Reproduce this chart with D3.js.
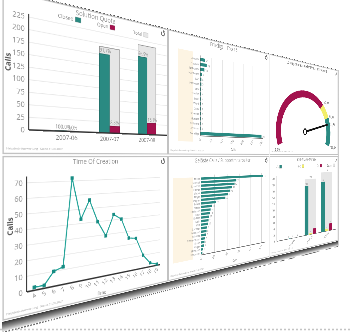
<!DOCTYPE html>
<html>
<head>
<meta charset="utf-8">
<script src="https://cdn.jsdelivr.net/npm/d3@7"></script>
<style>
  html, body { margin: 0; padding: 0; background: #fff; overflow: hidden; width: 350px; height: 332px; }
  #floor { position: absolute; left: 0; top: 0; }
  #board { position: absolute; left: 0; top: 0; width: 1214px; height: 640px; transform-origin: 0 0; }
  text { font-family: "Open Sans", "DejaVu Sans", sans-serif; }
</style>
</head>
<body>
<svg id="floor" width="350" height="332"></svg>
<div id="board"></div>
<script>
// ---- data ---------------------------------------------------------------
// Solution Quota (calls per month)
const months = ["2007-06", "2007-07", "2007-08"];
const closedCalls = [1, 177, 186];
const openCalls = [0, 16, 28];
const quotaTicks = d3.range(0, 226, 25);

// Time Of Creation (calls per hour of day)
const hours = ["4", "5", "6", "7", "8", "9", "10", "11", "12", "13", "14", "15", "16", "17", "18", "19"];
const callsPerHour = [2, 2, 10, 12, 72, 43, 56, 40, 29, 44, 40, 25, 24, 10, 3, 1];
const hourTicks = d3.range(0, 71, 10);

// Erledigt | Top 15
const topCategories = ["Drucker", "Outlook", "Netzwerk", "Hardware", "SAP", "Passwort", "VPN", "Telefon",
  "Excel", "Word", "Citrix", "Scanner", "Monitor", "Software", "Lizenzen", "Sonstige"];
const topDone = [21, 28, 18, 8, 5, 5, 4, 4, 4, 3, 3, 3, 3, 2, 2, 297];
const topTicks = d3.range(0, 301, 50);

// Gelöste Calls / Supportmitarbeiter
const agents = ["Müller", "Schmidt", "Schneider", "Fischer", "Weber", "Meyer", "Wagner", "Becker", "Schulz",
  "Hoffmann", "Koch", "Richter", "Klein", "Wolf", "Schröder", "Neumann", "Schwarz", "Zimmermann",
  "Braun", "Krüger", "Hofmann", "Hartmann"];
const solvedCalls = [103, 55, 52, 48, 45, 41, 37, 22, 16, 14, 13, 12, 11, 10, 9, 8, 7, 6, 5, 4, 3, 2];
const agentTicks = d3.range(0, 101, 20);

// Lösungsquote gauge (percent)
const quotaBands = [0, 70, 80, 100];
const quotaNow = 84.5;

// Call stage matrix (stages per call, per month)
const stageLabels = ["1 - 3", "4 - 6", "7+"];
const stageLow = [1, 170, 180];
const stageMid = [0, 4, 8];
const stageHigh = [0, 19, 26];
const stageTicks = d3.range(0, 201, 20);

// ---- colours --------------------------------------------------------------
const TEAL = "#2a8a82", MAGENTA = "#a3124e", YELLOW = "#f2ee6a", GRAY = "#e6e6e6", LINE = "#22a398";
const pct = v => d3.format(".1f")(v).replace(".", ",") + "%";

// floor line under the board
d3.select("#floor").append("line").attr("x1", 0).attr("x2", 350).attr("y1", 329.5).attr("y2", 329.5)
  .attr("stroke", "#c4c4c4").attr("stroke-width", 1.5).attr("stroke-dasharray", "2,2");

// ---- board: 1200x600 flat dashboard, projected onto a tilted plane ----------
const W = 1200, H = 600;
const corners = [[2, -12], [338, 70], [338, 241], [2, 322]];

function quadMatrix(w, h, q) {
  const [x0, y0] = q[0], [x1, y1] = q[1], [x2, y2] = q[2], [x3, y3] = q[3];
  const dx1 = x1 - x2, dx2 = x3 - x2, dx3 = x0 - x1 + x2 - x3;
  const dy1 = y1 - y2, dy2 = y3 - y2, dy3 = y0 - y1 + y2 - y3;
  const den = dx1 * dy2 - dx2 * dy1;
  const g = (dx3 * dy2 - dx2 * dy3) / den;
  const k = (dx1 * dy3 - dx3 * dy1) / den;
  const a = x1 - x0 + g * x1, b = x3 - x0 + k * x3, c = x0;
  const d = y1 - y0 + g * y1, e = y3 - y0 + k * y3, f = y0;
  return [a / w, d / w, 0, g / w, b / h, e / h, 0, k / h, 0, 0, 1, 0, c, f, 0, 1];
}

const board = d3.select("#board")
  .style("transform", "matrix3d(" + quadMatrix(W, H, corners).join(",") + ")");
const svg = board.append("svg").attr("width", 1214).attr("height", 640);

// board edge: thickness shading under the bottom, dashed outline, right edge
const defs = svg.append("defs");
const edgeGrad = defs.append("linearGradient").attr("id", "edge").attr("x1", 0).attr("y1", 0).attr("x2", 0).attr("y2", 1);
edgeGrad.append("stop").attr("offset", 0).attr("stop-color", "#353535");
edgeGrad.append("stop").attr("offset", 0.55).attr("stop-color", "#8a8a8a");
edgeGrad.append("stop").attr("offset", 1).attr("stop-color", "#e4e4e4");
const sideGrad = defs.append("linearGradient").attr("id", "side").attr("x1", 0).attr("y1", 0).attr("x2", 1).attr("y2", 0);
sideGrad.append("stop").attr("offset", 0).attr("stop-color", "#9a9a9a");
sideGrad.append("stop").attr("offset", 1).attr("stop-color", "#f2f2f2");

svg.append("rect").attr("x", 0).attr("y", 600).attr("width", 1206).attr("height", 17).attr("fill", "url(#edge)");
svg.append("rect").attr("x", 1199).attr("y", 0).attr("width", 8).attr("height", 614).attr("fill", "url(#side)");
svg.append("line").attr("x1", 0).attr("x2", 1207).attr("y1", 619).attr("y2", 619)
  .attr("stroke", "#666").attr("stroke-width", 2.5).attr("stroke-dasharray", "3,3");
svg.append("line").attr("x1", 0).attr("x2", 1200).attr("y1", 1).attr("y2", 1)
  .attr("stroke", "#555").attr("stroke-width", 2.5).attr("stroke-dasharray", "5,4");

function panel(px, py, title) {
  const g = svg.append("g").attr("transform", `translate(${px},${py})`);
  g.append("rect").attr("x", 2).attr("y", 3).attr("width", 396).attr("height", 294)
    .attr("fill", "#fff").attr("stroke", "#c2c2c2").attr("stroke-width", 2.5);
  g.append("text").attr("x", 200).attr("y", 18).attr("text-anchor", "middle")
    .attr("font-size", 14).attr("fill", "#8c8c8c").text(title);
  const ic = g.append("g").attr("transform", "translate(384,15)");
  ic.append("path").attr("d", d3.arc()({ innerRadius: 3.5, outerRadius: 6, startAngle: 0.7, endAngle: 5.6 }))
    .attr("fill", "#6f6f6f");
  ic.append("path").attr("d", "M0,-9 L6,-6 L1,-2 Z").attr("fill", "#6f6f6f");
  g.append("text").attr("x", 8).attr("y", 290).attr("font-size", 6).attr("fill", "#aaa")
    .text("Helpdesk-Auswertung · Stand 31.08.2007");
  return g;
}

function styleAxis(sel, size, color) {
  sel.select(".domain").remove();
  sel.selectAll("text").attr("font-size", size).attr("fill", color);
}

// ---- 1: Solution Quota ---------------------------------------------------
{
  const g = panel(0, 0, "Solution Quota");
  const y = d3.scaleLinear().domain([0, 225]).range([253, 42]);
  const x = d3.scaleBand().domain(months).range([79, 388]).paddingInner(0.49).paddingOuter(0.25);
  const sub = d3.scaleBand().domain(["closed", "open"]).range([0, x.bandwidth()]).paddingInner(0.04);
  const rows = months.map((m, i) => ({ m, closed: closedCalls[i], open: openCalls[i], total: closedCalls[i] + openCalls[i] }));

  g.append("g").selectAll("line").data(quotaTicks.slice(1)).join("line")
    .attr("x1", 51).attr("x2", 396).attr("y1", d => y(d)).attr("y2", d => y(d))
    .attr("stroke", "#e8e8e8").attr("stroke-width", 1.5);
  const ya = g.append("g").attr("transform", "translate(47,0)")
    .call(d3.axisLeft(y).tickValues(quotaTicks).tickSize(0).tickPadding(4));
  styleAxis(ya, 14, "#8a8a8a");

  // totals as light boxes behind
  g.append("g").selectAll("rect").data(rows).join("rect")
    .attr("x", d => x(d.m)).attr("width", x.bandwidth())
    .attr("y", d => y(d.total)).attr("height", d => y(0) - y(d.total))
    .attr("fill", GRAY).attr("stroke", "#8e8e8e").attr("stroke-width", 1.5);
  const bars = g.append("g").selectAll("g").data(rows).join("g").attr("transform", d => `translate(${x(d.m)},0)`);
  bars.append("rect").attr("x", sub("closed")).attr("width", sub.bandwidth())
    .attr("y", d => y(d.closed)).attr("height", d => y(0) - y(d.closed))
    .attr("fill", TEAL).attr("stroke", "#1f6b65").attr("stroke-width", 1.2);
  bars.append("rect").attr("x", sub("open")).attr("width", sub.bandwidth())
    .attr("y", d => y(d.open)).attr("height", d => y(0) - y(d.open))
    .attr("fill", MAGENTA).attr("stroke", "#7d0c3b").attr("stroke-width", 1.2);
  bars.append("text").attr("x", sub("closed") + 1).attr("y", d => y(d.closed) - 4)
    .attr("font-size", 10).attr("fill", "#888").text(d => pct(100 * d.closed / d.total));
  bars.append("text").attr("x", sub("open") + 1).attr("y", d => y(d.open) - 4)
    .attr("font-size", 10).attr("fill", "#888").text(d => pct(100 * d.open / d.total));

  // axes lines
  g.append("line").attr("x1", 51).attr("x2", 51).attr("y1", 36).attr("y2", y(0)).attr("stroke", "#333").attr("stroke-width", 2);
  g.append("line").attr("x1", 51).attr("x2", 396).attr("y1", y(0)).attr("y2", y(0)).attr("stroke", "#333").attr("stroke-width", 3);

  g.append("g").selectAll("text").data(months).join("text")
    .attr("x", d => x(d) + x.bandwidth() / 2).attr("y", 270).attr("text-anchor", "middle")
    .attr("font-size", 13).attr("fill", "#7a7a7a").text(d => d);
  g.append("text").attr("transform", "translate(16,131) rotate(-90)").attr("text-anchor", "middle")
    .attr("font-size", 14).attr("font-weight", "bold").attr("fill", "#555").text("Calls");

  const legend = [["Closed", TEAL, 150], ["Open", MAGENTA, 234], ["Total", GRAY, 326]];
  const lg = g.append("g").selectAll("g").data(legend).join("g").attr("transform", d => `translate(${d[2]},31)`);
  lg.append("text").attr("x", -4).attr("y", 0).attr("text-anchor", "end").attr("font-size", 11).attr("fill", "#777").text(d => d[0]);
  lg.append("rect").attr("x", 0).attr("y", -9).attr("width", 13).attr("height", 10)
    .attr("fill", d => d[1]).attr("stroke", "#999").attr("stroke-width", 0.6);
}

// ---- 2: Time Of Creation -------------------------------------------------
{
  const g = panel(0, 300, "Time Of Creation");
  const y = d3.scaleLinear().domain([0, 73]).range([255, 43]);
  const x = d3.scalePoint().domain(hours).range([62, 365]);
  const pts = hours.map((h, i) => ({ h, v: callsPerHour[i] }));

  g.append("g").selectAll("line").data(hourTicks.slice(1)).join("line")
    .attr("x1", 47).attr("x2", 374).attr("y1", d => y(d)).attr("y2", d => y(d))
    .attr("stroke", "#e8e8e8").attr("stroke-width", 1.5);
  const ya = g.append("g").attr("transform", "translate(43,0)")
    .call(d3.axisLeft(y).tickValues(hourTicks).tickSize(0).tickPadding(4));
  styleAxis(ya, 14, "#8a8a8a");
  g.append("line").attr("x1", 47).attr("x2", 47).attr("y1", 40).attr("y2", y(0)).attr("stroke", "#333").attr("stroke-width", 2);
  g.append("line").attr("x1", 47).attr("x2", 375).attr("y1", y(0)).attr("y2", y(0)).attr("stroke", "#333").attr("stroke-width", 3);

  g.append("path").datum(pts).attr("fill", "none").attr("stroke", LINE).attr("stroke-width", 2.5)
    .attr("d", d3.line().x(d => x(d.h)).y(d => y(d.v)));
  g.append("g").selectAll("rect").data(pts).join("rect")
    .attr("x", d => x(d.h) - 3.5).attr("y", d => y(d.v) - 3.5).attr("width", 7).attr("height", 7)
    .attr("fill", "#178c83");

  g.append("g").selectAll("text").data(hours).join("text")
    .attr("transform", d => `translate(${x(d) + 5},266) rotate(-40)`).attr("text-anchor", "end")
    .attr("font-size", 12).attr("fill", "#8a8a8a").text(d => d);
  g.append("text").attr("x", 213).attr("y", 293).attr("text-anchor", "middle")
    .attr("font-size", 10).attr("fill", "#777").text("Time");
  g.append("text").attr("transform", "translate(20,130) rotate(-90)").attr("text-anchor", "middle")
    .attr("font-size", 14).attr("font-weight", "bold").attr("fill", "#555").text("Calls");
}

// horizontal bar chart used by the two middle panels
function hbars(g, names, values, ticks, xr, dom, yr, cream, fs) {
  const x = d3.scaleLinear().domain(dom).range(xr);
  const y = d3.scaleBand().domain(names).range(yr).paddingInner(0.35);
  g.append("rect").attr("x", cream[0]).attr("y", cream[1]).attr("width", cream[2]).attr("height", cream[3]).attr("fill", "#fdf4e3");
  g.append("g").selectAll("line").data(ticks.slice(1)).join("line")
    .attr("x1", d => x(d)).attr("x2", d => x(d)).attr("y1", yr[0] - 6).attr("y2", yr[1] + 2)
    .attr("stroke", "#c9c9c9").attr("stroke-width", 1.5);
  const rows = names.map((n, i) => ({ n, v: values[i] }));
  g.append("g").selectAll("rect").data(rows).join("rect")
    .attr("x", x(0)).attr("y", d => y(d.n)).attr("height", y.bandwidth())
    .attr("width", d => x(d.v) - x(0)).attr("fill", TEAL);
  g.append("g").selectAll("text").data(rows).join("text")
    .attr("x", d => x(d.v) + 3).attr("y", d => y(d.n) + y.bandwidth() / 2 + 3)
    .attr("font-size", fs).attr("fill", "#888").text(d => d.v);
  g.append("g").selectAll("text").data(names).join("text")
    .attr("x", x(0) - 4).attr("y", d => y(d) + y.bandwidth() / 2 + 3).attr("text-anchor", "end")
    .attr("font-size", fs).attr("fill", "#8a8a8a").text(d => d);
  g.append("line").attr("x1", x(0)).attr("x2", x(0)).attr("y1", yr[0] - 6).attr("y2", yr[1] + 2).attr("stroke", "#444").attr("stroke-width", 1.5);
  g.append("line").attr("x1", x(0)).attr("x2", xr[1] + 6).attr("y1", yr[1] + 2).attr("y2", yr[1] + 2).attr("stroke", "#444").attr("stroke-width", 1.5);
  g.append("g").selectAll("text").data(ticks).join("text")
    .attr("transform", d => `translate(${x(d) + 3},${yr[1] + 12}) rotate(-45)`).attr("text-anchor", "end")
    .attr("font-size", 9).attr("fill", "#888").text(d => d);
  g.append("text").attr("x", (x(0) + xr[1]) / 2).attr("y", 288).attr("text-anchor", "middle")
    .attr("font-size", 9).attr("fill", "#777").text("Calls");
}

// ---- 3: Erledigt | Top 15 --------------------------------------------------
{
  const g = panel(400, 0, "Erledigt | Top 15");
  hbars(g, topCategories, topDone, topTicks, [109, 364], [0, 300], [54, 249], [32, 42, 51, 224], 8);
}

// ---- 4: Gelöste Calls / Supportmitarbeiter --------------------------------
{
  const g = panel(400, 300, "Gelöste Calls / Supportmitarbeiter");
  hbars(g, agents, solvedCalls, agentTicks, [112, 374.5], [0, 105], [56, 250], [17, 55, 67, 204], 7);
}

// ---- 5: Lösungsquote gauge -------------------------------------------------
{
  const g = panel(800, 0, "");
  g.append("text").attr("x", 205).attr("y", 18).attr("text-anchor", "middle")
    .attr("font-size", 12).attr("fill", "#444").text("Lösungsquote aktueller Monat (in Prozent)");
  const angle = d3.scaleLinear().domain([0, 100]).range([-110, 110].map(a => a * Math.PI / 180));
  const cx = 190, cy = 224, sx = 1.2, rIn = 110, rOut = 132;
  const bandColors = [MAGENTA, YELLOW, TEAL];
  const gauge = g.append("g").attr("transform", `translate(${cx},${cy}) scale(${sx},1)`);
  const arc = d3.arc().innerRadius(rIn).outerRadius(rOut);
  gauge.selectAll("path").data(d3.pairs(quotaBands)).join("path")
    .attr("d", d => arc({ startAngle: angle(d[0]), endAngle: angle(d[1]) }))
    .attr("fill", (d, i) => bandColors[i]);
  const pos = (v, r) => [cx + Math.sin(angle(v)) * r * sx, cy - Math.cos(angle(v)) * r];
  const tip = pos(quotaNow, 120);
  g.append("line").attr("x1", cx).attr("y1", cy).attr("x2", tip[0]).attr("y2", tip[1])
    .attr("stroke", "#111").attr("stroke-width", 6);
  g.append("circle").attr("cx", cx).attr("cy", cy).attr("r", 9).attr("fill", "#fff").attr("stroke", "#111").attr("stroke-width", 4);

  const lab = (v, dx, dy, anchor) => {
    const p = pos(v, rOut);
    g.append("text").attr("x", p[0] + dx).attr("y", p[1] + dy).attr("text-anchor", anchor)
      .attr("font-size", 12).attr("fill", "#555").text(pct(v));
  };
  lab(quotaBands[0], 0, 18, "middle");
  lab(quotaBands[1], 6, -4, "start");
  lab(quotaBands[2], 5, 2, "start");
  lab(quotaNow, 5, 6, "start");
  lab(quotaBands[3], 8, 8, "start");
}

// ---- 6: Call-Stage-Matrix --------------------------------------------------
{
  const g = panel(800, 300, "Call-Stage-Matrix");
  const y = d3.scaleLinear().domain([0, 200]).range([257, 70]);
  const x = d3.scaleBand().domain(months).range([50, 395]).paddingInner(0.3).paddingOuter(0.35);
  const sub = d3.scaleBand().domain([0, 1, 2]).range([0, x.bandwidth()]).paddingInner(0.08);
  const colors = [TEAL, YELLOW, MAGENTA];
  const rows = months.map((m, i) => ({ m, vals: [stageLow[i], stageMid[i], stageHigh[i]], total: stageLow[i] + stageMid[i] + stageHigh[i] }));

  const ya = g.append("g").attr("transform", "translate(32,0)")
    .call(d3.axisLeft(y).tickValues(stageTicks).tickSize(0).tickPadding(3));
  styleAxis(ya, 9, "#777");
  g.append("line").attr("x1", 36).attr("x2", 36).attr("y1", 62).attr("y2", y(0)).attr("stroke", "#444").attr("stroke-width", 1.5);
  g.append("line").attr("x1", 36).attr("x2", 396).attr("y1", y(0)).attr("y2", y(0)).attr("stroke", "#444").attr("stroke-width", 1.5);

  g.append("g").selectAll("rect").data(rows).join("rect")
    .attr("x", d => x(d.m)).attr("width", x.bandwidth())
    .attr("y", d => y(d.total)).attr("height", d => y(0) - y(d.total)).attr("fill", GRAY);
  g.append("g").selectAll("text").data(rows).join("text")
    .attr("x", d => x(d.m) + x.bandwidth() / 2).attr("y", d => y(d.total) - 4).attr("text-anchor", "middle")
    .attr("font-size", 8).attr("fill", "#777").text(d => d.total);
  const grp = g.append("g").selectAll("g").data(rows).join("g").attr("transform", d => `translate(${x(d.m)},0)`);
  grp.selectAll("rect").data(d => d.vals).join("rect")
    .attr("x", (d, i) => sub(i)).attr("width", sub.bandwidth())
    .attr("y", d => y(d)).attr("height", d => y(0) - y(d)).attr("fill", (d, i) => colors[i]);
  grp.selectAll("text").data(d => d.vals).join("text")
    .attr("x", (d, i) => sub(i) + sub.bandwidth() / 2).attr("y", d => y(d) - 3).attr("text-anchor", "middle")
    .attr("font-size", 8).attr("fill", "#777").text(d => d);

  g.append("g").selectAll("text").data(months).join("text")
    .attr("transform", d => `translate(${x(d) + x.bandwidth() / 2 + 14},266) rotate(-30)`).attr("text-anchor", "end")
    .attr("font-size", 10).attr("fill", "#777").text(d => d);

  const legend = stageLabels.map((s, i) => [s, colors[i]]).concat([["Gesamt", GRAY]]);
  const lx = [50, 172, 280, 366];
  const lg = g.append("g").selectAll("g").data(legend).join("g").attr("transform", (d, i) => `translate(${lx[i]},38)`);
  lg.append("text").attr("x", -5).attr("y", 0).attr("text-anchor", "end").attr("font-size", 10).attr("fill", "#777").text(d => d[0]);
  lg.append("rect").attr("x", 0).attr("y", -9).attr("width", 11).attr("height", 10)
    .attr("fill", d => d[1]).attr("stroke", "#999").attr("stroke-width", 0.6);
}
</script>
</body>
</html>
